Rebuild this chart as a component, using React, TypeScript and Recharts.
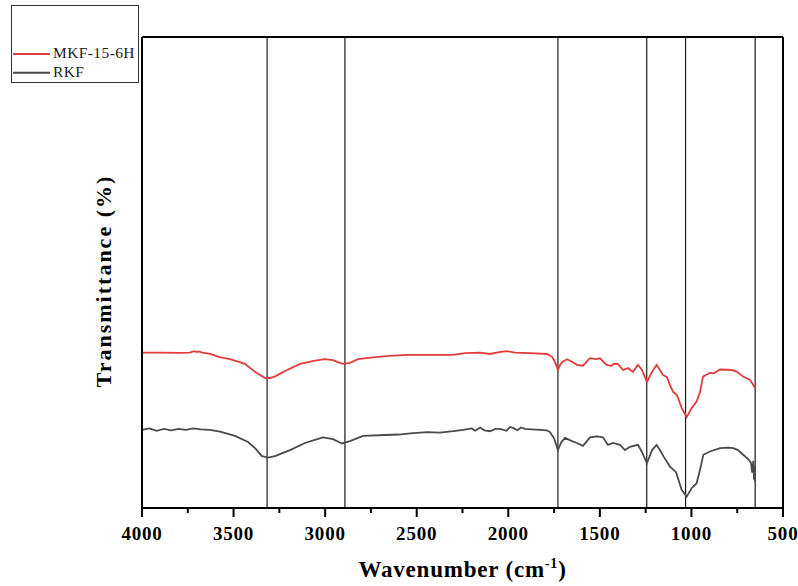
import React from "react";
import {
  LineChart,
  Line,
  XAxis,
  YAxis,
  ReferenceLine,
  Legend,
} from "recharts";

const FONT = "'Liberation Serif', 'Times New Roman', serif";

// Peak positions marked by vertical lines (cm-1)
const peakPositions = [3317, 2892, 1729, 1244, 1032, 652];

// Bottom axis ticks (major every 500, minor every 250)
const xTicks = [4000, 3750, 3500, 3250, 3000, 2750, 2500, 2250, 2000, 1750, 1500, 1250, 1000, 750, 500];

// MKF-15-6H spectrum
const mkfWavenumber = [
  4000, 3900, 3800, 3740, 3715, 3700, 3690, 3670, 3629, 3570, 3520, 3438, 3383, 3328, 3300, 3270, 3219,
  3137, 3055, 3001, 2957, 2920, 2903, 2864, 2821, 2739, 2650, 2553, 2450, 2302, 2236, 2154, 2100, 2050,
  2007, 1963, 1882, 1789, 1761, 1745, 1729, 1715, 1701, 1679, 1650, 1625, 1592, 1570, 1554, 1521, 1499,
  1480, 1463, 1439, 1423, 1401, 1374, 1346, 1319, 1292, 1270, 1243, 1215, 1190, 1172, 1155, 1134, 1117,
  1101, 1079, 1053, 1026, 999, 972, 953, 937, 899, 877, 844, 780, 751, 718, 680, 652,
];
const mkfTransmittance = [
  32.97, 33.0, 32.95, 33.0, 33.3, 33.1, 33.25, 33.0, 32.7, 32.0, 31.6, 30.6, 28.9, 27.6, 27.6, 28.0, 29.1,
  30.6, 31.3, 31.6, 31.4, 30.8, 30.6, 30.8, 31.6, 32.0, 32.3, 32.5, 32.5, 32.5, 32.9, 33.0, 32.7, 33.1,
  33.3, 33.0, 32.9, 32.7, 32.1, 31.0, 29.3, 30.5, 31.1, 31.6, 31.0, 30.4, 30.2, 31.2, 31.8, 31.6, 31.8,
  31.0, 30.4, 30.2, 30.6, 30.6, 29.3, 29.7, 28.9, 30.4, 29.3, 26.8, 28.9, 30.4, 29.3, 28.2, 27.8, 26.1,
  24.7, 24.0, 21.2, 19.3, 21.2, 22.6, 24.6, 27.9, 28.7, 28.6, 29.4, 29.3, 28.9, 27.9, 27.2, 25.5,
];

// RKF spectrum
const rkfWavenumber = [
  4000, 3960, 3920, 3880, 3840, 3800, 3760, 3720, 3680, 3629, 3574, 3492, 3421, 3383, 3345, 3312, 3274,
  3230, 3192, 3110, 3060, 3012, 2957, 2908, 2864, 2793, 2673, 2600, 2520, 2440, 2373, 2300, 2247, 2200,
  2180, 2154, 2130, 2100, 2070, 2045, 2010, 1990, 1974, 1950, 1930, 1909, 1870, 1827, 1790, 1772, 1750,
  1729, 1710, 1690, 1652, 1625, 1592, 1554, 1516, 1483, 1456, 1428, 1390, 1363, 1336, 1292, 1270, 1243,
  1215, 1190, 1172, 1150, 1117, 1084, 1053, 1026, 999, 972, 953, 935, 899, 844, 800, 771, 746, 717, 691,
  675, 668, 662, 658, 655, 652,
];
const rkfTransmittance = [
  16.6, 16.9, 16.4, 16.8, 16.5, 16.8, 16.6, 16.9, 16.7, 16.6, 16.2, 15.3, 14.0, 12.7, 11.0, 10.7, 11.0,
  11.7, 12.3, 13.8, 14.4, 15.0, 14.6, 13.7, 14.2, 15.3, 15.5, 15.6, 15.9, 16.1, 16.0, 16.3, 16.6, 16.9,
  16.4, 17.1, 16.5, 16.3, 16.8, 16.8, 16.4, 17.2, 17.0, 16.5, 17.1, 16.8, 16.7, 16.6, 16.5, 16.1, 14.8,
  12.3, 14.0, 14.9, 14.2, 13.8, 13.2, 15.0, 15.2, 15.0, 13.4, 13.8, 13.4, 12.3, 13.0, 13.4, 11.9, 9.5,
  12.3, 13.4, 12.3, 10.8, 8.8, 7.6, 3.8, 2.4, 4.2, 5.2, 8.1, 11.3, 12.0, 12.7, 12.8, 12.7, 12.3, 11.3, 10.4,
  9.6, 7.5, 10.0, 6.0, 9.0, 5.6,
];

const mkfData = mkfWavenumber.map((w, i) => ({ wn: w, t: mkfTransmittance[i] }));
const rkfData = rkfWavenumber.map((w, i) => ({ wn: w, t: rkfTransmittance[i] }));

const RED = "#e23b3b";
const GRAY = "#4a4a4a";

const BottomTick = (props: any) => {
  const { x, y, payload } = props;
  const major = payload.value % 500 === 0;
  return (
    <g>
      <line x1={x} x2={x} y1={y} y2={y + (major ? 9 : 5)} stroke="#000" strokeWidth={2} />
      {major && (
        <text
          x={x}
          y={y + 32}
          textAnchor="middle"
          fontFamily={FONT}
          fontWeight="bold"
          fontSize={19}
          letterSpacing={0.8}
          fill="#000"
        >
          {payload.value}
        </text>
      )}
    </g>
  );
};

const TopTick = (props: any) => {
  const { x, y, payload } = props;
  return (
    <text x={x} y={y - 11} textAnchor="middle" fontFamily={FONT} fontSize={18} letterSpacing={0.8} fill="#000">
      {payload.value}
    </text>
  );
};

const renderLegend = (props: any) => {
  const items = props.payload || [];
  const rows = [53.3, 72.3];
  const lineYs = [49, 67.7];
  return (
    <svg width={128} height={78} style={{ display: "block" }}>
      <rect x={0.5} y={0.5} width={127} height={77} fill="#fff" stroke="#333" strokeWidth={1} />
      {items.map((it: any, i: number) => (
        <g key={it.value}>
          <line x1={2} x2={39} y1={lineYs[i]} y2={lineYs[i]} stroke={it.color} strokeWidth={2} />
          <text x={42} y={rows[i]} fontFamily={FONT} fontSize={15.5} letterSpacing={0.4} fill="#1a1a1a">
            {it.value}
          </text>
        </g>
      ))}
    </svg>
  );
};

const XTitle = (props: any) => {
  const { viewBox } = props;
  const cx = viewBox.x + viewBox.width / 2;
  return (
    <text x={cx} y={577} textAnchor="middle" fontFamily={FONT} fontWeight="bold" fontSize={23} letterSpacing={0.8} fill="#000">
      Wavenumber (cm
      <tspan fontSize={14} dy={-9}>-1</tspan>
      <tspan dy={9}>)</tspan>
    </text>
  );
};

const YTitle = () => (
  <text
    x={111}
    y={281}
    transform="rotate(-90 111 281)"
    textAnchor="middle"
    fontFamily={FONT}
    fontWeight="bold"
    fontSize={22}
    letterSpacing={2}
    fill="#000"
  >
    Transmittance (%)
  </text>
);

export default function App() {
  return (
    <div style={{ position: "absolute", left: 0, top: 0, width: 798, height: 586, background: "#fff" }}>
      <LineChart width={798} height={586} margin={{ top: 0, right: 0, bottom: 0, left: 0 }}>
        <XAxis
          dataKey="wn"
          type="number"
          domain={[500, 4000]}
          reversed
          ticks={xTicks}
          interval={0}
          allowDuplicatedCategory={false}
          height={78}
          tickSize={0}
          tickMargin={0}
          tickLine={false}
          tick={<BottomTick />}
          axisLine={{ stroke: "#000", strokeWidth: 2 }}
          label={<XTitle />}
        />
        <XAxis
          xAxisId="top"
          orientation="top"
          dataKey="wn"
          type="number"
          domain={[500, 4000]}
          reversed
          ticks={peakPositions}
          interval={0}
          allowDuplicatedCategory={false}
          height={37}
          tickSize={0}
          tickMargin={0}
          tickLine={false}
          tick={<TopTick />}
          axisLine={{ stroke: "#000", strokeWidth: 2 }}
        />
        <YAxis
          type="number"
          domain={[0, 100]}
          width={142}
          tick={false}
          tickLine={false}
          axisLine={{ stroke: "#000", strokeWidth: 2 }}
          label={<YTitle />}
        />
        <YAxis
          yAxisId="right"
          orientation="right"
          type="number"
          domain={[0, 100]}
          width={15}
          tick={false}
          tickLine={false}
          axisLine={{ stroke: "#000", strokeWidth: 2 }}
        />
        {peakPositions.map((p) => (
          <ReferenceLine key={p} x={p} stroke="#1a1a1a" strokeWidth={1.2} />
        ))}
        <Line
          data={mkfData}
          dataKey="t"
          name="MKF-15-6H"
          stroke={RED}
          strokeWidth={1.8}
          dot={false}
          type="linear"
          isAnimationActive={false}
        />
        <Line
          data={rkfData}
          dataKey="t"
          name="RKF"
          stroke={GRAY}
          strokeWidth={1.8}
          dot={false}
          type="linear"
          isAnimationActive={false}
        />
        <Legend
          layout="vertical"
          align="center"
          verticalAlign="middle"
          content={renderLegend}
          wrapperStyle={{ left: 11, top: 5, width: 128, height: 78 }}
        />
      </LineChart>
    </div>
  );
}
